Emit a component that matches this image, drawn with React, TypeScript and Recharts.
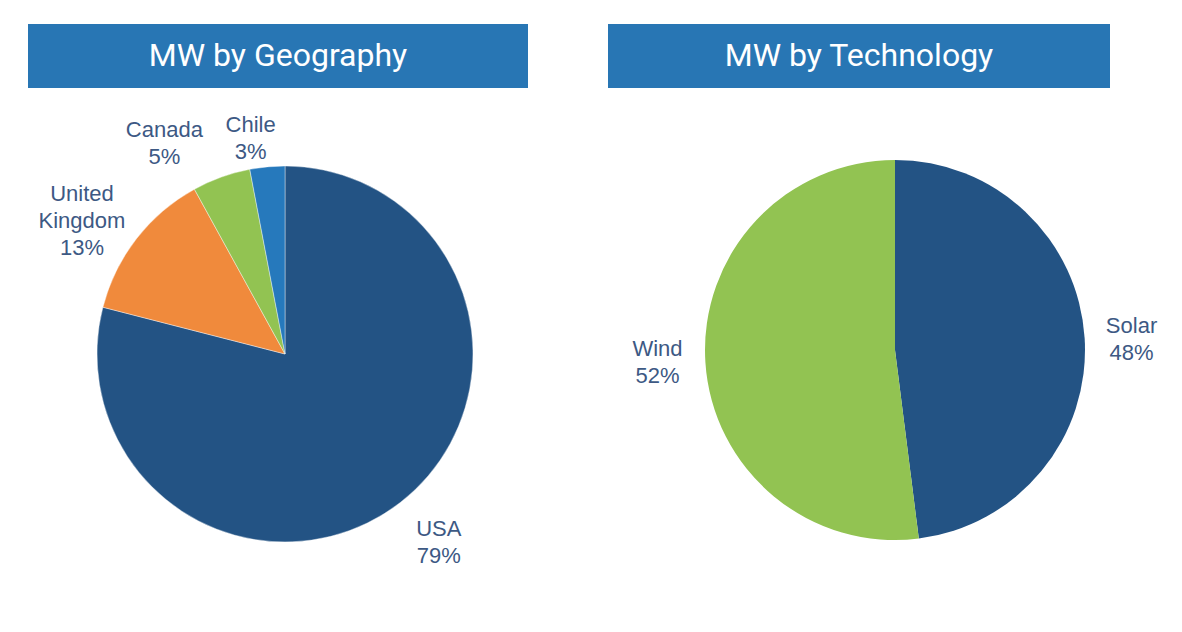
import React from "react";
import { PieChart, Pie, Cell } from "recharts";

const geoNames = ["USA", "United Kingdom", "Canada", "Chile"];
const geoValues = [79, 13, 5, 3];
const geoColors = ["#235384", "#f08a3c", "#92c352", "#2679bc"];

const techNames = ["Solar", "Wind"];
const techValues = [48, 52];
const techColors = ["#235384", "#92c352"];

const titles = ["MW by Geography", "MW by Technology"];

const geoData = geoNames.map((name, i) => ({ name, value: geoValues[i] }));
const techData = techNames.map((name, i) => ({ name, value: techValues[i] }));

// small label placement tweaks (like manual label adjustment in the source chart)
const labelNudge: Record<string, [number, number]> = {
  USA: [8, 0],
  "United Kingdom": [-15, 12],
  Canada: [-40, 13],
  Chile: [-12, 21],
  Solar: [-3, 4],
  Wind: [2, -3],
};

const RAD = Math.PI / 180;
const FS = 22;
const LH = 27;

const renderLabel = (props: any) => {
  const { cx, cy, midAngle, outerRadius, payload, value } = props;
  const name: string = payload?.name ?? props.name;
  const r = outerRadius + 50;
  const nudge = labelNudge[name] || [0, 0];
  const x = cx + r * Math.cos(-midAngle * RAD) + nudge[0];
  const y = cy + r * Math.sin(-midAngle * RAD) + nudge[1];
  const lines = [...name.split(" "), `${value}%`];
  const n = lines.length;
  const base = y - ((n - 1) * LH - 0.716 * FS) / 2;
  return (
    <text
      x={x}
      y={base}
      textAnchor="middle"
      fill="#3d5984"
      fontFamily="'Liberation Sans', Arial, sans-serif"
      fontSize={FS}
    >
      {lines.map((l, i) => (
        <tspan key={i} x={x} y={base + i * LH}>
          {l}
        </tspan>
      ))}
    </text>
  );
};

const titleStyle = (left: number, width: number): React.CSSProperties => ({
  position: "absolute",
  left,
  top: 24,
  width,
  height: 64,
  background: "#2876b4",
  color: "#ffffff",
  fontFamily: "Roboto, 'Open Sans', sans-serif",
  fontSize: 32,
  lineHeight: "62px",
  textAlign: "center",
});

export default function App() {
  return (
    <div
      style={{
        position: "absolute",
        left: 0,
        top: 0,
        width: 1182,
        height: 632,
        background: "#ffffff",
        overflow: "hidden",
      }}
    >
      <PieChart
        width={1182}
        height={632}
        margin={{ top: 0, right: 0, bottom: 0, left: 0 }}
        style={{ position: "absolute", left: 0, top: 0 }}
      >
        <Pie
          data={geoData}
          dataKey="value"
          nameKey="name"
          cx={285}
          cy={354}
          outerRadius={188}
          startAngle={90}
          endAngle={-270}
          stroke="#ffffff"
          strokeWidth={0.4}
          label={renderLabel}
          labelLine={false}
          isAnimationActive={false}
        >
          {geoData.map((d, i) => (
            <Cell key={d.name} fill={geoColors[i]} />
          ))}
        </Pie>
        <Pie
          data={techData}
          dataKey="value"
          nameKey="name"
          cx={895}
          cy={350}
          outerRadius={190}
          startAngle={90}
          endAngle={-270}
          stroke="none"
          label={renderLabel}
          labelLine={false}
          isAnimationActive={false}
        >
          {techData.map((d, i) => (
            <Cell key={d.name} fill={techColors[i]} />
          ))}
        </Pie>
      </PieChart>
      <div style={titleStyle(28, 500)}>{titles[0]}</div>
      <div style={titleStyle(608, 502)}>{titles[1]}</div>
    </div>
  );
}
